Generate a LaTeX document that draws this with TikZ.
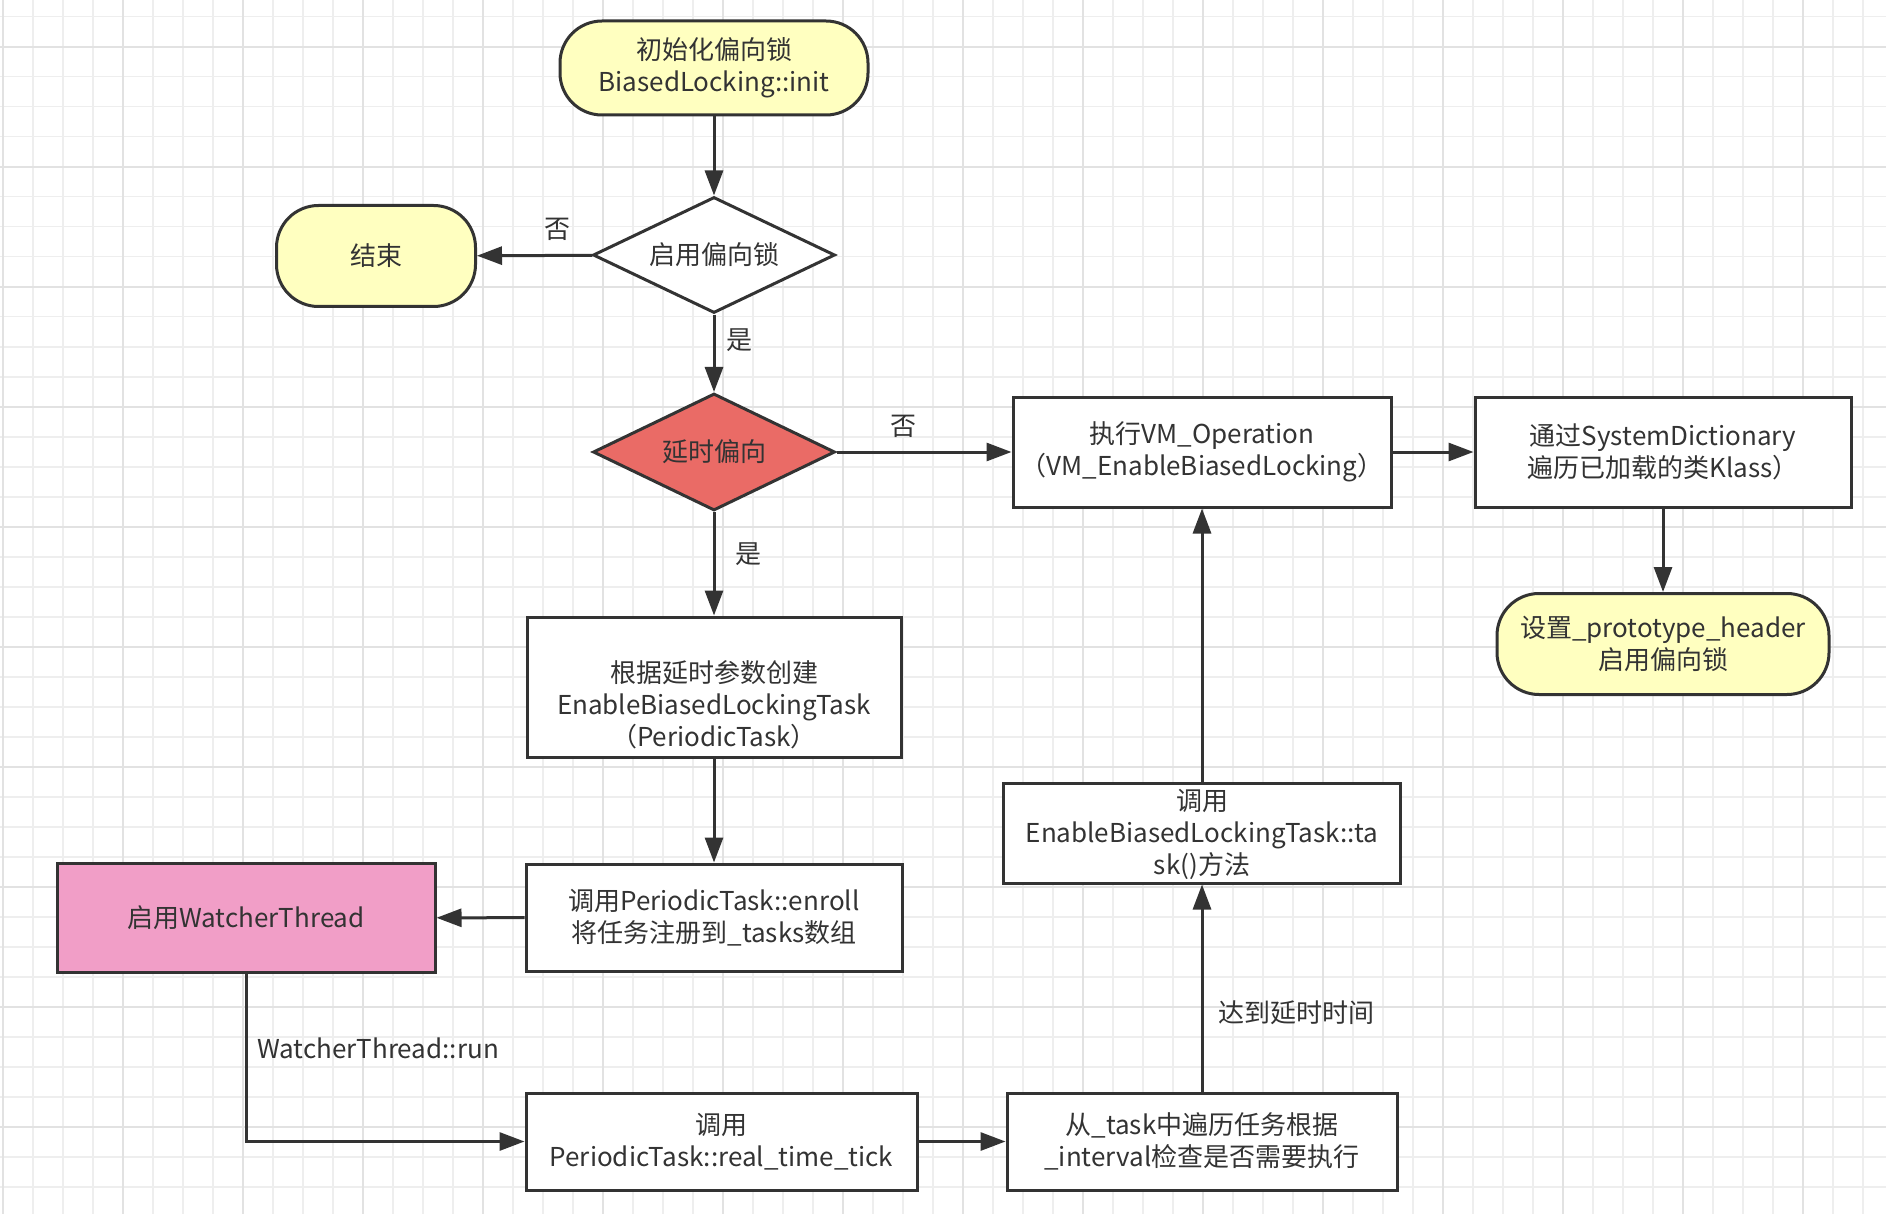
\documentclass[tikz,border=0pt]{standalone}
\usepackage{fontspec}
\setmainfont{Noto Sans CJK SC}
\usetikzlibrary{shapes.geometric,arrows.meta}
\definecolor{ink}{HTML}{333333}
\definecolor{termfill}{HTML}{FFFFC0}
\definecolor{redfill}{HTML}{EA6B66}
\definecolor{pinkfill}{HTML}{F19EC7}
\definecolor{gridminor}{HTML}{EEEEEE}
\definecolor{gridmajor}{HTML}{E2E2E2}
\tikzset{
  base/.style={draw=ink, line width=3pt, text=ink, align=center, inner sep=0pt,
    font=\fontsize{26}{32}\selectfont},
  terminal/.style={base, rectangle, rounded corners=42pt, fill=termfill},
  procbox/.style={base, rectangle, fill=white},
  decision/.style={base, diamond, aspect=2, fill=white},
  conn/.style={draw=ink, line width=3pt, -{Triangle[length=25pt,width=18pt]}},
  lbl/.style={text=ink, inner sep=0pt, align=center, font=\fontsize{26}{32}\selectfont}
}
\begin{document}
\begin{tikzpicture}[x=1pt,y=-1pt]
\useasboundingbox (0,0) rectangle (1886,1214);
\fill[white] (0,0) rectangle (1886,1214);
% grid
\foreach \i in {0,...,62} {
  \pgfmathsetmacro{\gx}{2.7+30*\i}
  \draw[gridminor, line width=1.6pt] (\gx,0) -- (\gx,1214);
}
\foreach \i in {0,...,40} {
  \pgfmathsetmacro{\gy}{16.7+30*\i}
  \draw[gridminor, line width=1.6pt] (0,\gy) -- (1886,\gy);
}
\foreach \i in {0,...,15} {
  \pgfmathsetmacro{\gx}{2.7+120*\i}
  \draw[gridmajor, line width=1.8pt] (\gx,0) -- (\gx,1214);
}
\foreach \i in {0,...,10} {
  \pgfmathsetmacro{\gy}{46.7+120*\i}
  \draw[gridmajor, line width=1.8pt] (0,\gy) -- (1886,\gy);
}
% nodes
\node[terminal, minimum width=308pt, minimum height=94pt] (init) at (714,68) {初始化偏向锁\\BiasedLocking::init};
\node[decision, minimum width=242pt, minimum height=116pt] (d1) at (714,255) {启用偏向锁};
\node[terminal, minimum width=199pt, minimum height=101pt] (end) at (376,256) {结束};
\node[decision, fill=redfill, minimum width=242pt, minimum height=117pt] (d2) at (714,452) {延时偏向};
\node[procbox, minimum width=378pt, minimum height=110pt] (vm) at (1202,452) {执行VM\_Operation\\（VM\_EnableBiasedLocking）};
\node[procbox, minimum width=376pt, minimum height=110pt] (sd) at (1663,452) {通过SystemDictionary\\遍历已加载的类Klass）};
\node[terminal, minimum width=332pt, minimum height=101pt] (ph) at (1663,644) {设置\_prototype\_header\\启用偏向锁};
\node[procbox, minimum width=374pt, minimum height=140pt] (create) at (714,687) {};
\node[lbl] (createtext) at (714,705) {根据延时参数创建\\EnableBiasedLockingTask\\（PeriodicTask）};
\node[procbox, minimum width=376pt, minimum height=107pt] (enroll) at (714,917.5) {调用PeriodicTask::enroll\\将任务注册到\_tasks数组};
\node[procbox, fill=pinkfill, minimum width=378pt, minimum height=109pt] (pink) at (246,918) {启用WatcherThread};
\node[procbox, minimum width=391pt, minimum height=97pt] (rtt) at (721.5,1141.5) {调用\\PeriodicTask::real\_time\_tick};
\node[procbox, minimum width=390pt, minimum height=97pt] (scan) at (1202,1141.5) {从\_task中遍历任务根据\\\_interval检查是否需要执行};
\node[procbox, minimum width=397pt, minimum height=100pt] (call) at (1202,833) {};
\node[lbl] (calltext) at (1202,834) {调用\\EnableBiasedLockingTask::ta\\sk()方法};
% connectors
\draw[conn] (init) -- (d1);
\draw[conn] (d1) -- (end);
\draw[conn] (d1) -- (d2);
\draw[conn] (d2) -- (vm);
\draw[conn] (vm) -- (sd);
\draw[conn] (sd) -- (ph);
\draw[conn] (d2) -- (create);
\draw[conn] (create) -- (enroll);
\draw[conn] (enroll) -- (pink);
\draw[conn] (pink.south) |- (rtt.west);
\draw[conn] (rtt) -- (scan);
\draw[conn] (scan) -- (call);
\draw[conn] (call) -- (vm);
% labels
\node[lbl] (l1) at (557,229) {否};
\node[lbl] (l2) at (739,340) {是};
\node[lbl] (l3) at (903,426) {否};
\node[lbl] (l4) at (748,554) {是};
\node[lbl, anchor=west] (l5) at (257,1048) {WatcherThread::run};
\node[lbl, anchor=west] (l6) at (1218,1013) {达到延时时间};
\end{tikzpicture}
\end{document}
